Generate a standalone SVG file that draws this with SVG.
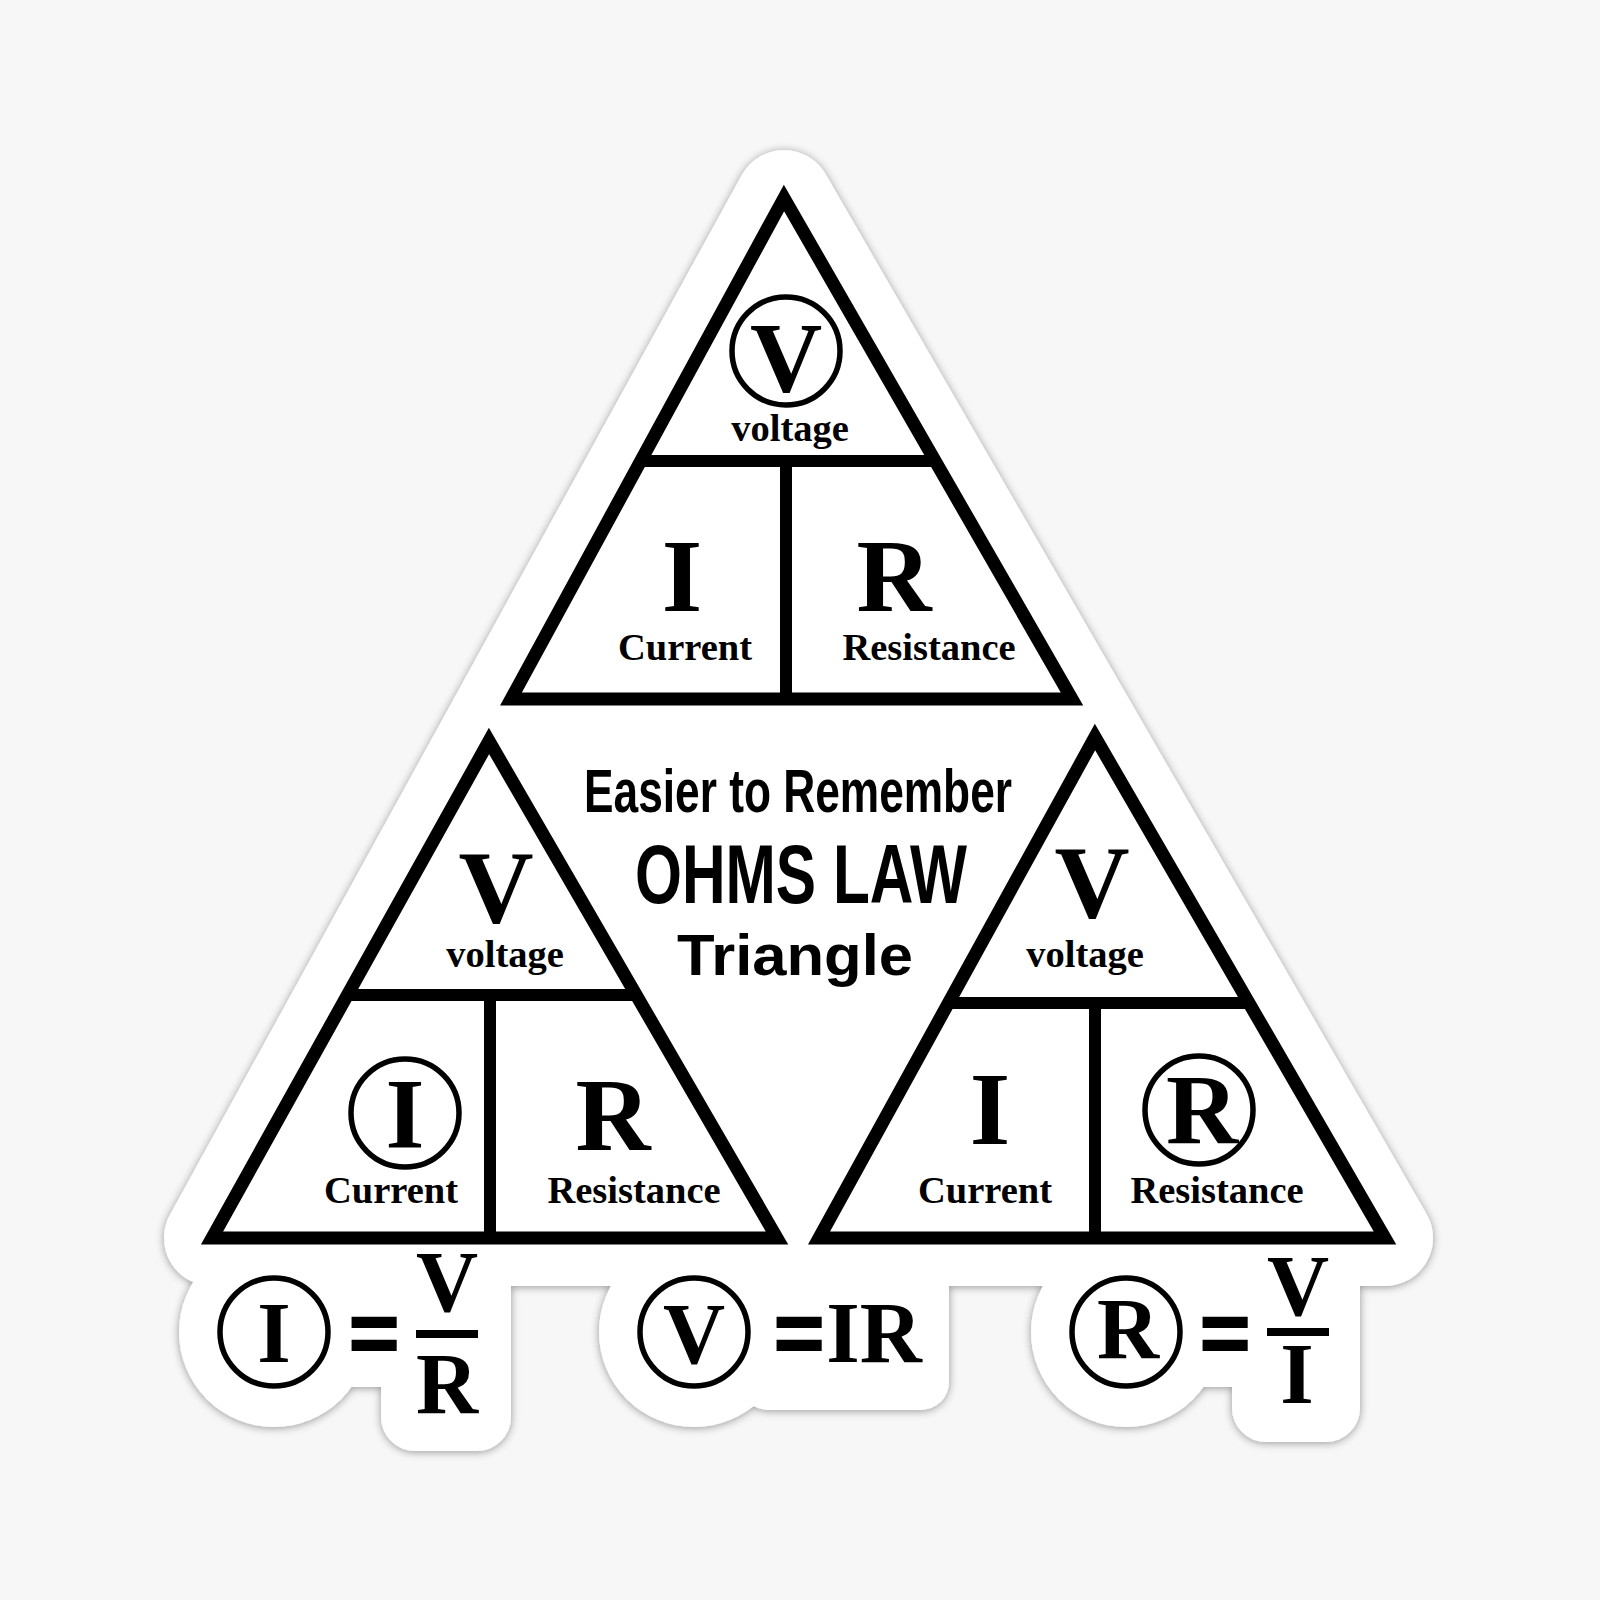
<svg xmlns="http://www.w3.org/2000/svg" width="1600" height="1600" viewBox="0 0 1600 1600">
  <defs>
    <filter id="shadow" x="-10%" y="-10%" width="120%" height="120%">
      <feDropShadow dx="0" dy="1" stdDeviation="4" flood-color="#000" flood-opacity="0.4"/>
    </filter>
    <style>
      .tri { fill: none; stroke: #000; stroke-width: 13; stroke-linejoin: miter; stroke-miterlimit: 10; }
      .div { stroke: #000; stroke-width: 12; }
      .ring { fill: none; stroke: #000; stroke-width: 5.5; }
      .big { font-family: "Liberation Serif", "Times New Roman", serif; font-weight: bold; font-size: 104px; text-anchor: middle; fill: #000; }
      .circ { font-family: "Liberation Serif", "Times New Roman", serif; font-weight: bold; font-size: 100px; text-anchor: middle; fill: #000; }
      .lbl { font-family: "Liberation Serif", "Times New Roman", serif; font-weight: bold; font-size: 38.5px; text-anchor: middle; fill: #000; }
      .frm { font-family: "Liberation Serif", "Times New Roman", serif; font-weight: bold; font-size: 86px; text-anchor: middle; fill: #000; }
      .eq { font-family: "Liberation Sans", Arial, sans-serif; font-weight: bold; font-size: 86px; text-anchor: middle; fill: #000; stroke: #000; stroke-width: 2; }
      .ttl { font-family: "Liberation Sans", Arial, sans-serif; font-weight: bold; text-anchor: middle; fill: #000; }
      .bar { fill: #000; }
    </style>
  </defs>

  <rect width="1600" height="1600" fill="#f7f7f7"/>

  <!-- sticker backing -->
  <g id="sticker" fill="#fff" filter="url(#shadow)">
    <polygon points="784,198 212,1238 1385,1238" stroke="#fff" stroke-width="96" stroke-linejoin="round"/>
    <circle cx="274" cy="1332" r="95"/>
    <rect x="335" y="1280" width="90" height="107"/>
    <rect x="381" y="1220" width="130" height="231" rx="34"/>
    <circle cx="694" cy="1332" r="95"/>
    <rect x="740" y="1260" width="209" height="150" rx="28"/>
    <circle cx="1126" cy="1332" r="95"/>
    <rect x="1190" y="1280" width="80" height="107"/>
    <rect x="1232" y="1220" width="128" height="222" rx="34"/>
  </g>

  <!-- top triangle -->
  <g id="tri-top">
    <polygon class="tri" points="784,198 511,699 1072,699"/>
    <line class="div" x1="641" y1="461" x2="935" y2="461"/>
    <line class="div" x1="786" y1="461" x2="786" y2="699"/>
    <circle class="ring" cx="786" cy="351" r="54"/>
    <text class="circ" x="786" y="391">V</text>
    <text class="lbl" x="790" y="441">voltage</text>
    <text class="big" x="682" y="611">I</text>
    <text class="big" x="894" y="611">R</text>
    <text class="lbl" x="685" y="660">Current</text>
    <text class="lbl" x="929" y="660">Resistance</text>
  </g>

  <!-- left triangle -->
  <g id="tri-left">
    <polygon class="tri" points="489,741 212,1238 777,1238"/>
    <line class="div" x1="348" y1="995" x2="636" y2="995"/>
    <line class="div" x1="490" y1="995" x2="490" y2="1238"/>
    <text class="big" x="496" y="922">V</text>
    <text class="lbl" x="505" y="967">voltage</text>
    <circle class="ring" cx="405" cy="1113" r="54"/>
    <text class="circ" x="405" y="1147">I</text>
    <text class="big" x="613" y="1150">R</text>
    <text class="lbl" x="391" y="1203">Current</text>
    <text class="lbl" x="634" y="1203">Resistance</text>
  </g>

  <!-- right triangle -->
  <g id="tri-right">
    <polygon class="tri" points="1095,737 819,1238 1385,1238"/>
    <line class="div" x1="949" y1="1003" x2="1249" y2="1003"/>
    <line class="div" x1="1095" y1="1003" x2="1095" y2="1238"/>
    <text class="big" x="1092" y="917">V</text>
    <text class="lbl" x="1085" y="967">voltage</text>
    <text class="big" x="990" y="1144">I</text>
    <circle class="ring" cx="1199" cy="1110" r="54"/>
    <text class="circ" x="1202" y="1143">R</text>
    <text class="lbl" x="985" y="1203">Current</text>
    <text class="lbl" x="1217" y="1203">Resistance</text>
  </g>

  <!-- title -->
  <g id="title">
    <text class="ttl" x="798" y="812" font-size="61" textLength="428" lengthAdjust="spacingAndGlyphs">Easier to Remember</text>
    <text class="ttl" x="801" y="903" font-size="84" textLength="332" lengthAdjust="spacingAndGlyphs">OHMS LAW</text>
    <text class="ttl" x="795" y="975" font-size="57" textLength="236" lengthAdjust="spacingAndGlyphs">Triangle</text>
  </g>

  <!-- formula I = V/R -->
  <g id="formula-i">
    <circle class="ring" cx="274" cy="1332" r="54"/>
    <text class="frm" x="274" y="1362" font-size="88">I</text>
    <text class="eq" x="374" y="1362">=</text>
    <text class="frm" x="447" y="1311">V</text>
    <rect class="bar" x="416" y="1330" width="62" height="8"/>
    <text class="frm" x="447" y="1413">R</text>
  </g>

  <!-- formula V = IR -->
  <g id="formula-v">
    <circle class="ring" cx="694" cy="1332" r="54"/>
    <text class="frm" x="694" y="1363">V</text>
    <text class="eq" x="799" y="1362">=</text>
    <text class="frm" x="874" y="1362">IR</text>
  </g>

  <!-- formula R = V/I -->
  <g id="formula-r">
    <circle class="ring" cx="1126" cy="1332" r="54"/>
    <text class="frm" x="1128" y="1358" font-size="84">R</text>
    <text class="eq" x="1225" y="1362">=</text>
    <text class="frm" x="1298" y="1315">V</text>
    <rect class="bar" x="1267" y="1328" width="62" height="8"/>
    <text class="frm" x="1297" y="1403">I</text>
  </g>

  <g id="connectors"/>
</svg>
